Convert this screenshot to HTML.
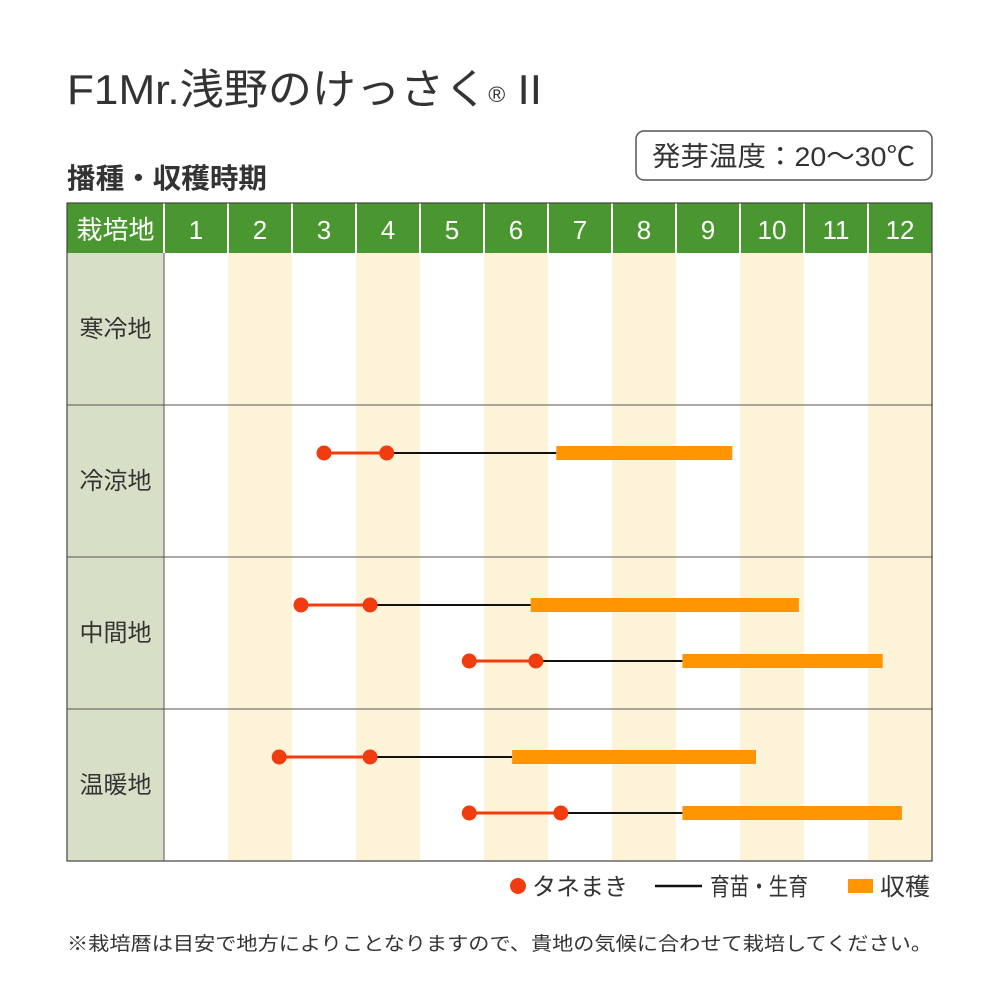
<!DOCTYPE html>
<html><head><meta charset="utf-8"><style>body{margin:0;background:#fff}svg{display:block;font-family:"Liberation Sans","Noto Sans CJK JP",sans-serif}</style></head>
<body>
<svg width="1000" height="1000" viewBox="0 0 1000 1000">
<rect width="1000" height="1000" fill="#fff"/>
<text x="67" y="104" font-size="42" fill="#333" textLength="475" lengthAdjust="spacingAndGlyphs">F1Mr.浅野のけっさく<tspan font-size="22" dy="-2">®</tspan><tspan dy="2"> II</tspan></text>
<rect x="636" y="131" width="296" height="49" rx="8" fill="#fff" stroke="#555" stroke-width="1.5"/>
<text x="652" y="166" font-size="27" fill="#333" textLength="263" lengthAdjust="spacingAndGlyphs">発芽温度：20〜30℃</text>
<text x="67" y="188" font-size="28" font-weight="bold" fill="#333" textLength="200" lengthAdjust="spacingAndGlyphs">播種・収穫時期</text>
<g id="grid"></g>
<g id="marks"></g>
<g>
<circle cx="518" cy="886" r="8" fill="#f03c0f"/>
<text x="532" y="895" font-size="24" fill="#333" textLength="96" lengthAdjust="spacingAndGlyphs">タネまき</text>
<line x1="655" y1="886" x2="702" y2="886" stroke="#111" stroke-width="2.5"/>
<text x="710" y="895" font-size="24" fill="#333" textLength="98" lengthAdjust="spacingAndGlyphs">育苗・生育</text>
<rect x="848" y="879" width="25" height="14" fill="#ff9500"/>
<text x="880" y="895" font-size="24" fill="#333" textLength="50" lengthAdjust="spacingAndGlyphs">収穫</text>
</g>
<text x="67" y="950" font-size="19" fill="#333" textLength="865" lengthAdjust="spacingAndGlyphs">※栽培暦は目安で地方によりことなりますので、貴地の気候に合わせて栽培してください。</text>
</svg>
<script>
const months=['1','2','3','4','5','6','7','8','9','10','11','12'];
const regions=['寒冷地','冷涼地','中間地','温暖地'];
// each schedule: region index, sub-row (0/1), sow start, sow end, harvest start, harvest end (month position, 1.0 = start of Jan)
const schedRegion=[1,2,2,3,3];
const schedSub=[0,0,1,0,1];
const sowStart=[3.5,3.14,5.77,2.8,5.77];
const sowEnd=[4.48,4.22,6.81,4.22,7.2];
const harvStart=[7.13,6.73,9.1,6.44,9.1];
const harvEnd=[9.88,10.92,12.23,10.25,12.53];

const NS='http://www.w3.org/2000/svg';
const L=67,C0=164,R=932,HT=203,HB=253,RH=152,CW=(R-C0)/12;
const xM=v=>C0+(v-1)*CW;
const rowY=(r,s)=>HB+r*RH+RH/2+(s===0?-28:28);
function mk(p,tag,a){const e=document.createElementNS(NS,tag);for(const k in a)e.setAttribute(k,a[k]);p.appendChild(e);return e;}
const g=document.getElementById('grid'),m=document.getElementById('marks');
let e;
e=mk(g,'rect',{x:L,y:HT,width:R-L,height:HB-HT,fill:'#4a9630'});


e=mk(g,'rect',{x:L,y:HB,width:C0-L,height:RH*4,fill:'#d7e0c6'});


e=mk(g,'text',{x:(L+C0)/2,y:239,'font-size':26,fill:'#fff','text-anchor':'middle'});e.textContent='栽培地';


months.forEach((mo,i)=>{
  const x=C0+i*CW;
  if(i%2===1){e=mk(g,'rect',{x:x,y:HB,width:CW,height:RH*4,fill:'#fdf3d8'});
  
  }
  e=mk(g,'line',{x1:x,y1:HT,x2:x,y2:HB,stroke:'#fff','stroke-width':2});
  
  
  e=mk(g,'text',{x:x+CW/2,y:239,'font-size':26,fill:'#fff','text-anchor':'middle'});e.textContent=mo;
  
  
});
regions.forEach((r,i)=>{
  e=mk(g,'text',{x:(L+C0)/2,y:HB+i*RH+RH/2+8,'font-size':24,fill:'#333','text-anchor':'middle'});e.textContent=r;
  
  
  if(i>0){e=mk(g,'line',{x1:L,y1:HB+i*RH,x2:R,y2:HB+i*RH,stroke:'#555','stroke-width':1});
  
  }
});
e=mk(g,'rect',{x:L,y:HT,width:R-L,height:HB-HT+RH*4,fill:'none',stroke:'#444','stroke-width':1.2});


e=mk(g,'line',{x1:C0,y1:HB,x2:C0,y2:HB+RH*4,stroke:'#555','stroke-width':1});


schedRegion.forEach((r,i)=>{
  const y=rowY(r,schedSub[i]);
  e=mk(m,'line',{x1:xM(sowEnd[i]),y1:y,x2:xM(harvStart[i]),y2:y,stroke:'#111','stroke-width':2});
  
  
  e=mk(m,'line',{x1:xM(sowStart[i]),y1:y,x2:xM(sowEnd[i]),y2:y,stroke:'#f03c0f','stroke-width':3});
  
  
  e=mk(m,'rect',{x:xM(harvStart[i]),y:y-7,width:xM(harvEnd[i])-xM(harvStart[i]),height:14,fill:'#ff9500'});
  
  
  [sowStart[i],sowEnd[i]].forEach(v=>{
    e=mk(m,'circle',{cx:xM(v),cy:y,r:7.5,fill:'#f03c0f'});
    
    
  });
});
</script>
</body></html>
